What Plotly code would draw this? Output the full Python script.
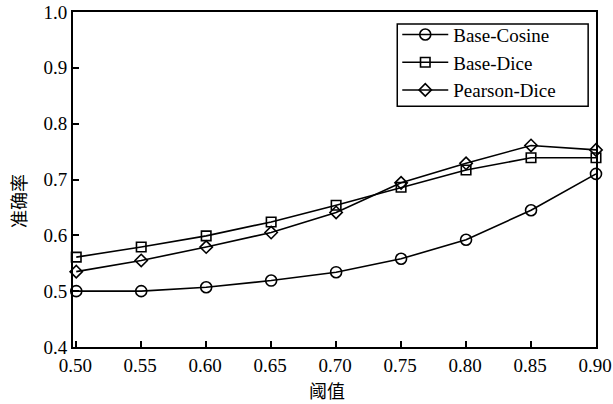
import plotly.graph_objects as go

thresholds = [0.50, 0.55, 0.60, 0.65, 0.70, 0.75, 0.80, 0.85, 0.90]
base_cosine = [0.500, 0.500, 0.507, 0.519, 0.534, 0.558, 0.592, 0.645, 0.710]
base_dice = [0.561, 0.579, 0.599, 0.624, 0.654, 0.686, 0.717, 0.739, 0.739]
pearson_dice = [0.535, 0.555, 0.579, 0.605, 0.641, 0.694, 0.729, 0.761, 0.753]
series_names = ["Base-Cosine", "Base-Dice", "Pearson-Dice"]
x_tick_labels = ["0.50", "0.55", "0.60", "0.65", "0.70", "0.75", "0.80", "0.85", "0.90"]
y_ticks = [0.4, 0.5, 0.6, 0.7, 0.8, 0.9, 1.0]
y_tick_labels = ["0.4", "0.5", "0.6", "0.7", "0.8", "0.9", "1.0"]
x_title = "阈值"
y_title = "准确率"

font_family = "Liberation Serif"
cjk_font = "Noto Sans CJK SC"

fig = go.Figure()
symbols = ["circle-open", "square-open", "diamond-open"]
sizes = [11, 9.5, 9.5]
for name, ys, sym, sz in zip(series_names, [base_cosine, base_dice, pearson_dice], symbols, sizes):
    fig.add_trace(go.Scatter(
        x=thresholds, y=ys, name=name, mode="lines+markers",
        line=dict(color="black", width=1.6),
        marker=dict(symbol=sym, size=sz, color="black", line=dict(color="black", width=1.6)),
        cliponaxis=False,
    ))

fig.update_layout(
    width=613, height=404,
    margin=dict(l=73, r=17, t=12, b=57),
    paper_bgcolor="white", plot_bgcolor="white",
    font=dict(family=font_family, size=19, color="black"),
    showlegend=True,
    legend=dict(
        x=0.62, y=0.989, xanchor="left", yanchor="top",
        bgcolor="rgba(0,0,0,0)", borderwidth=0,
        font=dict(family=font_family, size=19, color="black"),
        tracegroupgap=0, itemwidth=46,
    ),
    shapes=[
        dict(type="rect", xref="paper", yref="paper",
             x0=0.62, x1=0.985, y0=0.719, y1=0.964,
             line=dict(color="black", width=1.5), fillcolor="white", layer="above"),
    ],
    annotations=[
        dict(text=x_title, xref="paper", yref="paper", x=0.486, y=-0.128,
             xanchor="center", yanchor="middle", showarrow=False,
             font=dict(family=cjk_font, size=18, color="black")),
        dict(text=y_title, xref="paper", yref="paper", x=-0.105, y=0.436,
             xanchor="center", yanchor="middle", showarrow=False, textangle=-90,
             font=dict(family=cjk_font, size=18, color="black")),
    ],
)
fig.update_xaxes(
    range=[0.4975, 0.9], tickvals=thresholds, ticktext=x_tick_labels,
    ticks="inside", ticklen=6, tickwidth=1.5, tickcolor="black",
    showline=True, linecolor="black", linewidth=2, mirror=True,
    showgrid=False, zeroline=False, automargin=False, ticklabelshift=-1,
    tickfont=dict(family=font_family, size=19),
)
fig.update_yaxes(
    range=[0.4, 1.0], tickvals=y_ticks, ticktext=y_tick_labels,
    ticks="inside", ticklen=6, tickwidth=1.5, tickcolor="black",
    showline=True, linecolor="black", linewidth=2, mirror=True,
    showgrid=False, zeroline=False, automargin=False,
    tickfont=dict(family=font_family, size=19),
)

fig.write_html("out.html", config={"displayModeBar": False},
               post_script="document.body.style.margin='0';")
